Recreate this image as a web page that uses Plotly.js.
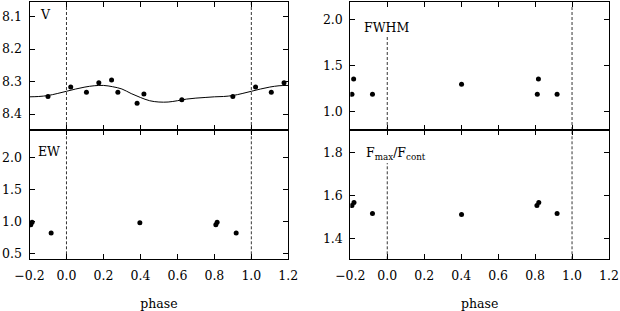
<!DOCTYPE html>
<html>
<head>
<meta charset="utf-8">
<script src="https://cdn.plot.ly/plotly-3.0.1.min.js"></script>
<style>html,body{margin:0;padding:0;background:#fff}#chart{width:620px;height:311px}</style>
</head>
<body>
<div id="chart"></div>
<script>
// V photometry points
const vPhase = [-0.100, 0.023, 0.108, 0.175, 0.244, 0.278, 0.382, 0.419, 0.624, 0.900, 1.023, 1.108, 1.177];
const vMag   = [8.346, 8.317, 8.333, 8.304, 8.295, 8.333, 8.367, 8.338, 8.356, 8.346, 8.317, 8.333, 8.304];
// V model curve
const curvePhase = [-0.20,-0.15,-0.10,-0.05,0.00,0.05,0.10,0.15,0.20,0.25,0.30,0.35,0.40,0.45,0.50,0.55,0.60,0.65,0.70,0.75,0.80,0.85,0.90,0.95,1.00,1.05,1.10,1.15,1.20];
const curveV     = [8.347,8.346,8.343,8.337,8.330,8.323,8.317,8.313,8.312,8.316,8.323,8.337,8.349,8.359,8.363,8.363,8.359,8.354,8.351,8.349,8.347,8.346,8.343,8.337,8.330,8.323,8.317,8.313,8.312];
// EW
const ewPhase = [-0.193, -0.186, -0.083, 0.397, 0.808, 0.815, 0.918];
const ewVal   = [0.95, 0.99, 0.82, 0.98, 0.95, 0.99, 0.82];
// FWHM
const fwPhase = [-0.191, -0.182, -0.080, 0.402, 0.812, 0.818, 0.919];
const fwVal   = [1.19, 1.355, 1.19, 1.30, 1.19, 1.355, 1.19];
// Fmax/Fcont
const frPhase = [-0.191, -0.180, -0.080, 0.402, 0.810, 0.820, 0.919];
const frVal   = [1.552, 1.567, 1.515, 1.510, 1.552, 1.567, 1.515];

const FAM = "DejaVu Serif";
const FONT = {family: FAM, size: 12.5, color: '#000'};
const dot = {color: '#000', size: 5};

const traces = [
  {x: curvePhase, y: curveV, mode: 'lines', line: {color: '#000', width: 1, shape: 'spline'}, xaxis: 'x', yaxis: 'y', hoverinfo: 'skip'},
  {x: vPhase, y: vMag, mode: 'markers', marker: dot, xaxis: 'x', yaxis: 'y'},
  {x: ewPhase, y: ewVal, mode: 'markers', marker: dot, xaxis: 'x2', yaxis: 'y2'},
  {x: fwPhase, y: fwVal, mode: 'markers', marker: dot, xaxis: 'x3', yaxis: 'y3'},
  {x: frPhase, y: frVal, mode: 'markers', marker: dot, xaxis: 'x4', yaxis: 'y4'}
];

const L = [29.5/620, 288.3/620];
const R = [350.3/620, 609/620];
const TOP = [1 - 130/311, 1 - 1.5/311];
const BOT = [1 - 259.3/311, 1 - 130/311];

function xax(domain, anchor, labels) {
  const a = {
    domain: domain, anchor: anchor, range: [-0.2, 1.2], dtick: 0.2, tick0: 0,
    tickformat: '.1f', ticks: 'inside', ticklen: 5, tickcolor: '#000',
    showline: true, linecolor: '#000', linewidth: 1, mirror: 'ticks',
    showgrid: false, zeroline: false, showticklabels: labels,
    tickfont: FONT, ticklabelstandoff: 5
  };
  if (labels) a.title = {text: 'phase', font: FONT, standoff: 21};
  return a;
}
function yax(domain, anchor, range, dtick) {
  return {
    domain: domain, anchor: anchor, range: range, dtick: dtick,
    tickformat: '.1f', ticks: 'inside', ticklen: 5, tickcolor: '#000',
    showline: true, linecolor: '#000', linewidth: 1, mirror: 'ticks',
    showgrid: false, zeroline: false, tickfont: FONT, ticklabelstandoff: 4
  };
}

const dashLine = {color: '#000', width: 0.8, dash: '3px,2px'};
const shapes = [
  {type: 'line', xref: 'x', yref: 'y domain', x0: 0, x1: 0, y0: 0, y1: 1, line: dashLine},
  {type: 'line', xref: 'x', yref: 'y domain', x0: 1, x1: 1, y0: 0, y1: 1, line: dashLine},
  {type: 'line', xref: 'x2', yref: 'y2 domain', x0: 0, x1: 0, y0: 0, y1: 1, line: dashLine},
  {type: 'line', xref: 'x2', yref: 'y2 domain', x0: 1, x1: 1, y0: 0, y1: 1, line: dashLine},
  {type: 'line', xref: 'x3', yref: 'y3', x0: 0, x1: 0, y0: 0.806, y1: 1.83, line: dashLine},
  {type: 'line', xref: 'x3', yref: 'y3', x0: 1, x1: 1, y0: 0.806, y1: 2.13, line: dashLine},
  {type: 'line', xref: 'x4', yref: 'y4', x0: 0, x1: 0, y0: 1.302, y1: 1.75, line: dashLine},
  {type: 'line', xref: 'x4', yref: 'y4 domain', x0: 1, x1: 1, y0: 0, y1: 1, line: dashLine}
];

const annotations = [
  {text: 'V', xref: 'paper', yref: 'paper', x: 45/620, y: 1 - 15/311, xanchor: 'center', yanchor: 'middle', showarrow: false, font: FONT},
  {text: 'EW', xref: 'paper', yref: 'paper', x: 49/620, y: 1 - 151/311, xanchor: 'center', yanchor: 'middle', showarrow: false, font: FONT},
  {text: 'FWHM', xref: 'paper', yref: 'paper', x: 386/620, y: 1 - 27/311, xanchor: 'center', yanchor: 'middle', showarrow: false, font: FONT},
  {text: 'F<sub>max</sub>/F<sub>cont</sub>', xref: 'paper', yref: 'paper', x: 364/620, y: 1 - 153/311, xanchor: 'left', yanchor: 'middle', showarrow: false, font: FONT}
];

const layout = {
  width: 620, height: 311,
  margin: {l: 0, r: 0, t: 0, b: 0},
  paper_bgcolor: '#fff', plot_bgcolor: '#fff',
  showlegend: false,
  font: FONT,
  xaxis: xax(L, 'y', false),
  yaxis: yax(TOP, 'x', [8.449, 8.054], 0.1),
  xaxis2: xax(L, 'y2', true),
  yaxis2: yax(BOT, 'x2', [0.41, 2.43], 0.5),
  xaxis3: xax(R, 'y3', false),
  yaxis3: yax(TOP, 'x3', [0.806, 2.19], 0.5),
  xaxis4: xax(R, 'y4', true),
  yaxis4: yax(BOT, 'x4', [1.302, 1.904], 0.2),
  shapes: shapes,
  annotations: annotations
};

Plotly.newPlot('chart', traces, layout, {staticPlot: true, displayModeBar: false});
</script>
</body>
</html>
